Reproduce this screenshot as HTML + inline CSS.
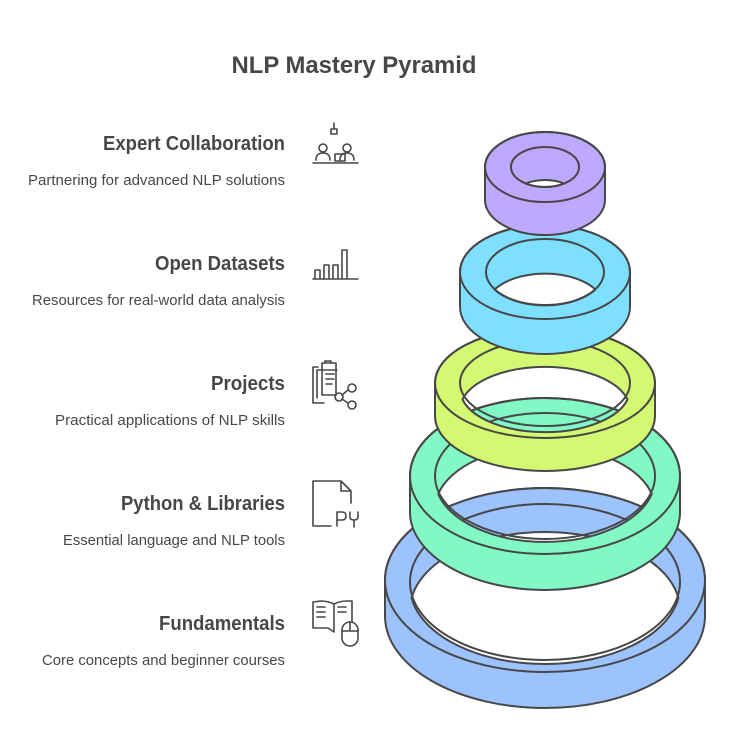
<!DOCTYPE html>
<html><head><meta charset="utf-8"><style>
html,body{margin:0;padding:0;background:#fff;}
svg{display:block;}
text{font-family:"Liberation Sans",sans-serif;fill:#474747;}
</style></head><body>
<svg width="730" height="756" viewBox="0 0 730 756" xmlns="http://www.w3.org/2000/svg">
<text x="354" y="73" font-size="24" font-weight="bold" text-anchor="middle" textLength="245" lengthAdjust="spacingAndGlyphs">NLP Mastery Pyramid</text>

<g font-weight="bold" font-size="20" text-anchor="end">
<text x="285" y="150" textLength="182" lengthAdjust="spacingAndGlyphs">Expert Collaboration</text>
<text x="285" y="270" textLength="130" lengthAdjust="spacingAndGlyphs">Open Datasets</text>
<text x="285" y="390" textLength="74" lengthAdjust="spacingAndGlyphs">Projects</text>
<text x="285" y="510" textLength="164" lengthAdjust="spacingAndGlyphs">Python &amp; Libraries</text>
<text x="285" y="630" textLength="126" lengthAdjust="spacingAndGlyphs">Fundamentals</text>
</g>
<g font-size="14.5" text-anchor="end">
<text x="285" y="185" textLength="257" lengthAdjust="spacingAndGlyphs">Partnering for advanced NLP solutions</text>
<text x="285" y="305" textLength="253" lengthAdjust="spacingAndGlyphs">Resources for real-world data analysis</text>
<text x="285" y="425" textLength="230" lengthAdjust="spacingAndGlyphs">Practical applications of NLP skills</text>
<text x="285" y="545" textLength="222" lengthAdjust="spacingAndGlyphs">Essential language and NLP tools</text>
<text x="285" y="665" textLength="243" lengthAdjust="spacingAndGlyphs">Core concepts and beginner courses</text>
</g>

<!-- icons -->
<g fill="none" stroke="#474747" stroke-width="1.6" stroke-linecap="round" stroke-linejoin="round">
<!-- collaboration -->
<path d="M334 123v6M331 129h6v5h-6z"/>
<circle cx="323" cy="148" r="4"/><circle cx="347" cy="148" r="4"/>
<path d="M316 160q0-7 7-7q7 0 7 7M340 160q0-7 7-7q7 0 7 7"/>
<rect x="335" y="154" width="10" height="7"/>
<path d="M313 163h45"/>
<!-- datasets -->
<path d="M313 279h45M315 279v-9h5v9M324 279v-14h5v14M333 279v-14h5v14M342 279v-29h5v29"/>
<!-- projects -->
<path d="M318 367h-5v36h11M322 363h14v32h-14z" transform="translate(0,0)"/>
<path d="M325 363v-2h6v2M317 370h20M317 370v28M326 374h8M326 379h8M326 384h6"/>
<circle cx="352" cy="388" r="4"/><circle cx="339" cy="397" r="4"/><circle cx="352" cy="405" r="4"/>
<path d="M342 395l6-5M342 399l6 4"/>
<!-- python -->
<path d="M313 481v45h18M313 481h28l10 10v12M341 481v10h10"/>
<path d="M337 526v-14h5q4 0 4 4q0 4-4 4h-5M350 512v5q0 3 4 3q4 0 4-3v-5M354 520v7"/>
<!-- book -->
<path d="M313 602v26h15l6 4l0-28q-6-3-13-3zM334 604q6-3 13-3h5v21"/>
<path d="M317 607h8M317 612h8M317 617h8M338 607h8M338 612h8"/>
<rect x="342" y="622" width="16" height="24" rx="8"/>
<path d="M342 631h16M350 622v9"/>
</g>

<!-- rings -->
<g stroke="#474747" stroke-width="2" stroke-linejoin="round">
<!-- blue: cx545 cy580 R160 ry92 h36 inner a135 b78 -->
<path fill-rule="evenodd" fill="#9cc3fe" d="M385 580 L385 616 A160 92 0 0 0 705 616 L705 580 A160 92 0 0 0 385 580 Z M411.6 598 A135 78 0 0 1 678.4 598 A135 78 0 0 1 411.6 598 Z"/>
<ellipse cx="545" cy="580" rx="160" ry="92" fill="none"/>
<ellipse cx="545" cy="582" rx="135" ry="78" fill="none"/>
<!-- green: cy476 R135 ry78 h36 inner a110 b63 -->
<path fill-rule="evenodd" fill="#82f8c4" d="M410 476 L410 512 A135 78 0 0 0 680 512 L680 476 A135 78 0 0 0 410 476 Z M438.2 494 A110 63 0 0 1 651.8 494 A110 63 0 0 1 438.2 494 Z"/>
<ellipse cx="545" cy="476" rx="135" ry="78" fill="none"/>
<ellipse cx="545" cy="476" rx="110" ry="63" fill="none"/>
<!-- yellow: cy383 R110 ry55 h33 inner a85 b43 -->
<path fill-rule="evenodd" fill="#d3f972" d="M435 383 L435 416 A110 55 0 0 0 655 416 L655 383 A110 55 0 0 0 435 383 Z M462.5 399.5 A85 43 0 0 1 627.5 399.5 A85 43 0 0 1 462.5 399.5 Z"/>
<ellipse cx="545" cy="383" rx="110" ry="55" fill="none"/>
<ellipse cx="545" cy="383" rx="85" ry="43" fill="none"/>
<!-- cyan: cy272 R85 ry47 h35 inner a59 b33 -->
<path fill-rule="evenodd" fill="#7ee0fe" d="M460 272 L460 307 A85 47 0 0 0 630 307 L630 272 A85 47 0 0 0 460 272 Z M494.6 289.5 A59 33 0 0 1 595.4 289.5 A59 33 0 0 1 494.6 289.5 Z"/>
<ellipse cx="545" cy="272" rx="85" ry="47" fill="none"/>
<ellipse cx="545" cy="272" rx="59" ry="33" fill="none"/>
<!-- purple: cy167 R60 ry35 h33 inner a34 b20 -->
<path fill-rule="evenodd" fill="#bcaafe" d="M485 167 L485 200 A60 35 0 0 0 605 200 L605 167 A60 35 0 0 0 485 167 Z M525.8 183.5 A34 20 0 0 1 564.2 183.5 A34 20 0 0 1 525.8 183.5 Z"/>
<ellipse cx="545" cy="167" rx="60" ry="35" fill="none"/>
<ellipse cx="545" cy="167" rx="34" ry="20" fill="none"/>
</g>
</svg>
</body></html>
